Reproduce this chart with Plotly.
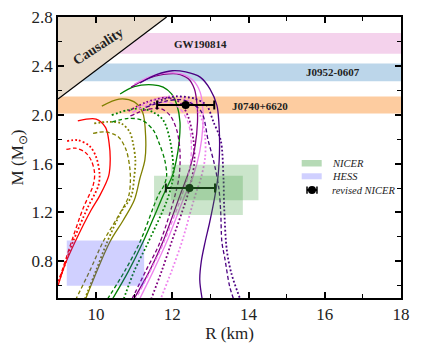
import plotly.graph_objects as go

# ---------------- data (R in km, M in solar masses) ----------------
red_solid_R = [9.52, 10.0, 10.25, 10.34, 10.37, 10.33, 10.1, 9.87, 9.45, 9.18, 9.0]
red_solid_M = [1.95, 1.965, 1.895, 1.77, 1.63, 1.50, 1.34, 1.22, 0.96, 0.77, 0.60]
red_dash_R = [9.22, 9.45, 9.71, 9.87, 9.96, 9.92, 9.66, 9.35, 9.08, 9.0]
red_dash_M = [1.716, 1.726, 1.693, 1.628, 1.52, 1.42, 1.234, 0.958, 0.70, 0.64]
red_dot_R = [9.24, 9.52, 9.83, 10.0, 10.09, 10.06, 9.77, 9.39, 9.12, 9.0]
red_dot_M = [1.784, 1.792, 1.743, 1.655, 1.52, 1.42, 1.234, 0.958, 0.72, 0.62]

olive_solid_R = [10.15, 10.6, 11.0, 11.22, 11.3, 11.28, 11.15, 11.0, 10.7, 10.36, 9.73]
olive_solid_M = [2.07, 2.128, 2.105, 2.02, 1.82, 1.63, 1.48, 1.30, 1.13, 0.958, 0.497]
olive_dash_R = [9.92, 10.23, 10.58, 10.79, 10.88, 10.9, 10.85, 10.6, 10.18, 9.84, 9.48]
olive_dash_M = [1.847, 1.86, 1.82, 1.71, 1.573, 1.46, 1.33, 1.18, 0.958, 0.726, 0.497]
olive_dot_R = [9.95, 10.31, 10.66, 10.88, 10.97, 11.03, 11.0, 10.92, 10.65, 10.29, 10.0, 9.71]
olive_dot_M = [1.929, 1.942, 1.929, 1.86, 1.765, 1.628, 1.49, 1.33, 1.2, 0.958, 0.726, 0.497]

green_solid_R = [10.63, 11.0, 11.49, 11.76, 11.98, 12.12, 12.2, 12.18, 12.1, 12.0, 11.76, 11.5, 11.23, 10.85, 10.44]
green_solid_M = [2.17, 2.23, 2.245, 2.226, 2.17, 2.08, 1.94, 1.78, 1.62, 1.5, 1.34, 1.15, 0.958, 0.72, 0.497]
green_dash_R = [10.41, 10.85, 11.2, 11.5, 11.65, 11.8, 11.85, 11.78, 11.63, 11.15, 10.75, 10.31]
green_dash_M = [1.94, 1.97, 1.956, 1.874, 1.77, 1.63, 1.5, 1.42, 1.34, 0.958, 0.72, 0.497]
green_dot_R = [10.41, 10.85, 11.2, 11.5, 11.76, 11.94, 12.03, 12.0, 11.85, 11.37, 11.0, 10.73]
green_dot_M = [1.997, 2.04, 2.05, 2.02, 1.956, 1.79, 1.55, 1.45, 1.29, 0.958, 0.72, 0.497]

purple_solid_R = [10.92, 11.33, 11.76, 12.12, 12.42, 12.58, 12.65, 12.66, 12.6, 12.45, 12.2, 11.75, 11.4, 11.0]
purple_solid_M = [2.226, 2.294, 2.33, 2.335, 2.294, 2.21, 2.076, 1.94, 1.75, 1.55, 1.34, 0.958, 0.72, 0.497]
purple_dash_R = [10.9, 11.3, 11.7, 11.95, 12.12, 12.2, 12.18, 12.07, 11.68, 11.3, 10.95]
purple_dash_M = [1.99, 2.04, 2.05, 1.99, 1.87, 1.7, 1.5, 1.34, 0.958, 0.72, 0.497]
purple_dot_R = [10.85, 11.3, 11.85, 12.2, 12.42, 12.55, 12.58, 12.5, 12.4, 11.98, 11.72, 11.45]
purple_dot_M = [2.03, 2.1, 2.14, 2.1, 1.98, 1.8, 1.62, 1.46, 1.34, 0.958, 0.72, 0.497]

violet_solid_R = [11.0, 11.4, 11.8, 12.24, 12.55, 12.73, 12.8, 12.8, 12.72, 12.55, 12.33, 11.85, 11.5, 11.15]
violet_solid_M = [2.25, 2.31, 2.34, 2.335, 2.28, 2.185, 2.05, 1.9, 1.7, 1.5, 1.34, 0.958, 0.72, 0.497]
violet_dash_R = [10.95, 11.4, 11.9, 12.2, 12.42, 12.5, 12.45, 12.25, 11.78, 11.42, 11.05]
violet_dash_M = [2.02, 2.08, 2.1, 2.05, 1.93, 1.75, 1.55, 1.34, 0.958, 0.72, 0.497]
violet_dot_R = [11.1, 11.6, 12.1, 12.5, 12.75, 12.86, 12.86, 12.75, 12.6, 12.25, 11.98, 11.7]
violet_dot_M = [2.06, 2.13, 2.15, 2.1, 1.98, 1.82, 1.65, 1.48, 1.34, 0.958, 0.72, 0.497]

indigo_solid_R = [11.15, 11.6, 12.0, 12.35, 12.73, 12.99, 13.17, 13.22, 13.24, 13.2, 13.12, 12.98, 12.86, 12.76, 12.72, 12.78]
indigo_solid_M = [2.26, 2.33, 2.36, 2.35, 2.308, 2.21, 2.076, 1.94, 1.75, 1.5, 1.34, 1.12, 0.958, 0.8, 0.65, 0.497]
indigo_dash_R = [11.3, 11.8, 12.3, 12.75, 12.94, 13.1, 13.22, 13.27, 13.3, 13.38, 13.5, 13.6]
indigo_dash_M = [2.06, 2.11, 2.12, 2.03, 1.79, 1.6, 1.4, 1.2, 0.96, 0.82, 0.6, 0.497]
indigo_dot_R = [11.4, 11.8, 12.1, 12.6, 12.9, 13.08, 13.27, 13.34, 13.36, 13.43, 13.55, 13.77]
indigo_dot_M = [2.08, 2.13, 2.15, 2.13, 2.076, 1.94, 1.79, 1.5, 1.245, 0.89, 0.7, 0.5]

# observational constraints
band_names = ["GW190814", "J0952-0607", "J0740+6620"]
band_low = [2.50, 2.275, 2.01]
band_high = [2.67, 2.42, 2.15]
band_colors = ["#f4d2ec", "#bcd6ea", "#fdcca0"]
band_label_R = [12.73, 16.22, 14.29]
band_label_M = [2.58, 2.35, 2.07]

nicer_R_low = [11.52, 11.96]
nicer_R_high = [13.85, 14.26]
nicer_M_low = [1.18, 1.30]
nicer_M_high = [1.50, 1.59]

hess_R = [9.23, 11.26]
hess_M = [0.60, 0.97]

revised_R = [12.35, 12.45]
revised_M = [2.08, 1.40]
revised_err_minus = [0.75, 0.62]
revised_err_plus = [0.75, 0.67]

causality_R = [9.0, 11.85]
causality_M = [2.128, 2.8]

x_range = [9, 18]
y_range = [0.5, 2.8]
x_ticks = [10, 12, 14, 16, 18]
x_minor_ticks = [9, 11, 13, 15, 17]
y_ticks = [0.8, 1.2, 1.6, 2.0, 2.4, 2.8]
y_tick_labels = ["0.8", "1.2", "1.6", "2.0", "2.4", "2.8"]
y_minor_ticks = [0.6, 1.0, 1.4, 1.8, 2.2, 2.6]

FONT = "Liberation Serif, Times New Roman, serif"

fig = go.Figure()

# bands
for lo, hi, col in zip(band_low, band_high, band_colors):
    fig.add_shape(type="rect", xref="x", yref="y", x0=x_range[0], x1=x_range[1],
                  y0=lo, y1=hi, fillcolor=col, line_width=0, layer="below")

# causality region
fig.add_trace(go.Scatter(x=[causality_R[0], causality_R[0], causality_R[1], causality_R[0]],
                         y=[causality_M[0], causality_M[1], causality_M[1], causality_M[0]],
                         fill="toself", fillcolor="#e9dccb", line=dict(width=0),
                         mode="lines", showlegend=False, hoverinfo="skip"))
fig.add_trace(go.Scatter(x=causality_R, y=causality_M, mode="lines",
                         line=dict(color="black", width=1.2), showlegend=False))

# M-R curves
DASH = "4px,2.5px"
DOT = "1.8px,2.2px"
curves = [
    (red_solid_R, red_solid_M, "#ff0000", "solid"),
    (red_dash_R, red_dash_M, "#ff0000", DASH),
    (red_dot_R, red_dot_M, "#ff0000", DOT),
    (olive_solid_R, olive_solid_M, "#808000", "solid"),
    (olive_dash_R, olive_dash_M, "#808000", DASH),
    (olive_dot_R, olive_dot_M, "#808000", DOT),
    (green_solid_R, green_solid_M, "#008000", "solid"),
    (green_dash_R, green_dash_M, "#008000", DASH),
    (green_dot_R, green_dot_M, "#008000", DOT),
    (purple_solid_R, purple_solid_M, "#800080", "solid"),
    (purple_dash_R, purple_dash_M, "#800080", DASH),
    (purple_dot_R, purple_dot_M, "#800080", DOT),
    (violet_solid_R, violet_solid_M, "#ee82ee", "solid"),
    (violet_dash_R, violet_dash_M, "#ee82ee", DASH),
    (violet_dot_R, violet_dot_M, "#ee82ee", DOT),
    (indigo_solid_R, indigo_solid_M, "#4b0082", "solid"),
    (indigo_dash_R, indigo_dash_M, "#4b0082", DASH),
    (indigo_dot_R, indigo_dot_M, "#4b0082", DOT),
]
for R, M, col, dash in curves:
    w = 1.8 if dash == DOT else 1.3
    fig.add_trace(go.Scatter(x=R, y=M, mode="lines",
                             line=dict(color=col, width=w, dash=dash, shape="spline", smoothing=0.9),
                             showlegend=False, hoverinfo="skip"))

# NICER and HESS boxes
for r0, r1, m0, m1 in zip(nicer_R_low, nicer_R_high, nicer_M_low, nicer_M_high):
    fig.add_shape(type="rect", xref="x", yref="y", x0=r0, x1=r1, y0=m0, y1=m1,
                  fillcolor="rgba(46,150,46,0.25)", line_width=0, layer="above")
fig.add_shape(type="rect", xref="x", yref="y", x0=hess_R[0], x1=hess_R[1], y0=hess_M[0], y1=hess_M[1],
              fillcolor="rgba(60,60,255,0.24)", line_width=0, layer="above")

# revised NICER points
fig.add_trace(go.Scatter(x=revised_R, y=revised_M, mode="markers",
                         marker=dict(color="black", size=8),
                         error_x=dict(type="data", symmetric=False, array=revised_err_plus,
                                      arrayminus=revised_err_minus, color="black",
                                      thickness=2, width=4.5),
                         showlegend=False))

# band labels
for name, rx, my in zip(band_names, band_label_R, band_label_M):
    fig.add_annotation(x=rx, y=my, xref="x", yref="y", text="<b>%s</b>" % name, showarrow=False,
                       font=dict(family=FONT, size=11, color="#222"))

fig.add_annotation(x=10.05, y=2.555, xref="x", yref="y", text="<b>Causality</b>", showarrow=False,
                   textangle=-33, font=dict(family=FONT, size=14, color="#222"))

# legend (drawn manually)
fig.add_shape(type="rect", xref="paper", yref="paper", x0=0.7105, x1=0.7688, y0=0.468, y1=0.4911,
              fillcolor="rgba(46,150,46,0.35)", line_width=0)
fig.add_shape(type="rect", xref="paper", yref="paper", x0=0.7105, x1=0.7688, y0=0.4224, y1=0.4438,
              fillcolor="rgba(60,60,255,0.24)", line_width=0)
fig.add_shape(type="line", xref="paper", yref="paper", x0=0.726, x1=0.755, y0=0.3843, y1=0.3843,
              line=dict(color="black", width=2))
for xe in (0.726, 0.755):
    fig.add_shape(type="line", xref="paper", yref="paper", x0=xe, x1=xe, y0=0.371, y1=0.397,
                  line=dict(color="black", width=1.5))
fig.add_shape(type="circle", xref="paper", yref="paper", xsizemode="pixel", ysizemode="pixel",
              xanchor=0.7405, yanchor=0.3843, x0=-4, x1=4, y0=-4, y1=4,
              fillcolor="black", line_width=0)
for txt, yy in (("NICER", 0.4804), ("HESS", 0.4324), ("revised NICER", 0.3843)):
    fig.add_annotation(x=0.793, y=yy, xref="paper", yref="paper", text="<i>%s</i>" % txt,
                       showarrow=False, xanchor="left", yanchor="middle",
                       font=dict(family=FONT, size=10.5, color="#222"))

axis_common = dict(showline=True, linewidth=1.5, linecolor="black", mirror="ticks",
                   ticks="inside", ticklen=6, tickwidth=1.5, tickcolor="black",
                   showgrid=False, zeroline=False, automargin=False,
                   ticklabeloverflow="allow",
                   tickfont=dict(family=FONT, size=17, color="#222"))

# the page body has an 8px margin, so the figure is shrunk to keep the plot area in place
fig.update_layout(
    width=405, height=335,
    margin=dict(l=50, r=12, t=9, b=45),
    paper_bgcolor="white", plot_bgcolor="white",
    showlegend=False,
    xaxis=dict(range=x_range, tickmode="array", tickvals=x_ticks,
               minor=dict(ticks="inside", tickmode="array", tickvals=x_minor_ticks,
                          ticklen=4, tickwidth=1.2, tickcolor="black"),
               title=dict(text="R (km)", font=dict(family=FONT, size=17, color="#222"), standoff=4),
               **axis_common),
    yaxis=dict(range=y_range, tickmode="array", tickvals=y_ticks, ticktext=y_tick_labels,
               minor=dict(ticks="inside", tickmode="array", tickvals=y_minor_ticks,
                          ticklen=4, tickwidth=1.2, tickcolor="black"),
               title=dict(text="M (M<sub>⊙</sub>)", font=dict(family=FONT, size=17, color="#222"), standoff=8),
               **axis_common),
)

fig.write_html("out.html")
